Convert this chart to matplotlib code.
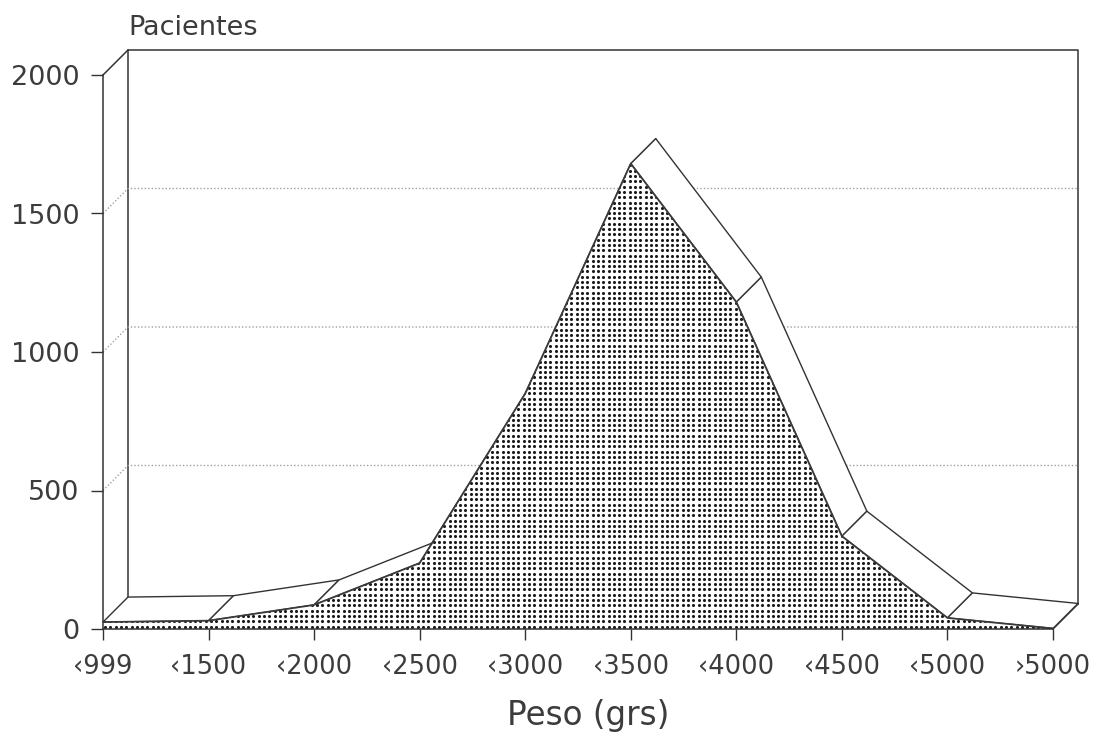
import numpy as np
import matplotlib
matplotlib.use("Agg")
import matplotlib.pyplot as plt
from matplotlib.patches import Polygon

# ---- data ----
categories = ["\u2039999", "\u20391500", "\u20392000", "\u20392500", "\u20393000",
              "\u20393500", "\u20394000", "\u20394500", "\u20395000", "\u203a5000"]
pacientes = [25, 30, 87, 238, 850, 1680, 1180, 335, 40, 2]
y_ticks = [0, 500, 1000, 1500, 2000]
y_label = "Pacientes"
x_label = "Peso (grs)"

# ---- style ----
W, H = 1097, 737
ink = "#333333"
txt = "#3c3c3c"
plt.rcParams["font.family"] = ["DejaVu Sans"]

fig = plt.figure(figsize=(W / 100, H / 100), dpi=100)
ax_l, ax_r, ax_b, ax_t = 103, 1053, 629, 75   # pixel box of the front plane
ax = fig.add_axes([ax_l / W, (H - ax_b) / H, (ax_r - ax_l) / W, (ax_b - ax_t) / H])
n = len(categories)
ymax = y_ticks[-1]
ax.set_xlim(0, n - 1)
ax.set_ylim(0, ymax)

# depth offset (oblique projection) in data units: ~25 px right, ~25 px up
px_x = (ax_r - ax_l) / (n - 1)
px_y = (ax_b - ax_t) / ymax
ddx = 25 / px_x
ddy = 25 / px_y

x = np.arange(n)
v = np.array(pacientes, dtype=float)

# back wall frame
ax.plot([ddx, ddx, n - 1 + ddx, n - 1 + ddx], [ddy, ymax + ddy, ymax + ddy, ddy],
        color=ink, lw=1.1, zorder=1, clip_on=False)
ax.plot([0, ddx], [ymax, ymax + ddy], color=ink, lw=1.1, zorder=1, clip_on=False)
ax.plot([n - 1, n - 1 + ddx], [0, ddy], color=ink, lw=1.1, zorder=1, clip_on=False)

# dotted grid lines on back wall and left side
for t in y_ticks[1:-1]:
    ax.plot([0, ddx, n - 1 + ddx], [t, t + ddy, t + ddy], color="#a0a0a0",
            lw=1.0, ls=(0, (1, 1.5)), zorder=1, clip_on=False)

# top ribbon surfaces
for i in range(n - 1):
    quad = [(x[i], v[i]), (x[i + 1], v[i + 1]),
            (x[i + 1] + ddx, v[i + 1] + ddy), (x[i] + ddx, v[i] + ddy)]
    ax.add_patch(Polygon(quad, closed=True, facecolor="white", edgecolor=ink,
                         lw=1.0, zorder=3, clip_on=False, joinstyle="round"))

# front face (stippled area)
front = [(0, 0)] + list(zip(x, v)) + [(n - 1, 0)]
fpoly = Polygon(front, closed=True, facecolor="white", edgecolor="none", zorder=4)
ax.add_patch(fpoly)

sp = 5.3
wpx, hpx = ax_r - ax_l, ax_b - ax_t
gx = np.arange(2.0, wpx, sp) / wpx
gy = np.arange(2.5, v.max() * px_y + 5, sp) / hpx
GX, GY = np.meshgrid(gx, gy)
sc = ax.scatter(GX.ravel(), GY.ravel(), s=5.0, c="#1c1c1c", linewidths=0,
                transform=ax.transAxes, zorder=5)
sc.set_clip_path(fpoly)

ax.plot(x, v, color="#3a3a3a", lw=1.3, zorder=6, solid_joinstyle="round")

# axes / spines
for s in ["top", "right"]:
    ax.spines[s].set_visible(False)
for s in ["left", "bottom"]:
    ax.spines[s].set_color(ink)
    ax.spines[s].set_linewidth(1.1)
    ax.spines[s].set_zorder(7)

ax.set_yticks(y_ticks)
ax.set_yticklabels([str(t) for t in y_ticks])
ax.set_xticks(x)
ax.set_xticklabels(categories)
ax.tick_params(axis="y", direction="out", length=8.6, width=1.0, color=ink,
               labelsize=19.5, labelcolor=txt, pad=8.5)
ax.tick_params(axis="x", direction="out", length=8, width=1.0, color=ink,
               labelsize=18.5, labelcolor=txt, pad=10)
ax.set_facecolor("none")

fig.text(128 / W, (H - 35) / H, y_label, fontsize=19.5, color=txt,
         ha="left", va="baseline")
fig.text(588 / W, (H - 725) / H, x_label, fontsize=23.5, color=txt,
         ha="center", va="baseline")

fig.savefig("out.png", dpi=100, facecolor="white")
